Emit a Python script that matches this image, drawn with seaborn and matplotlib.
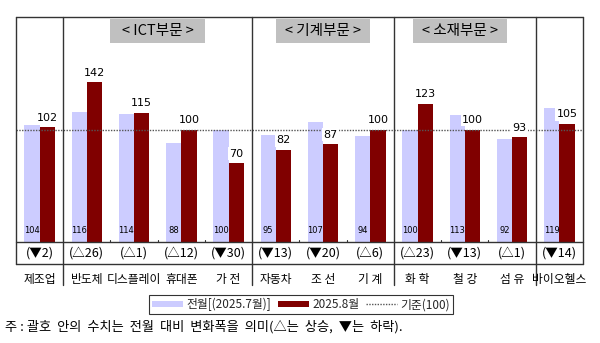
import matplotlib
matplotlib.use("Agg")
import matplotlib.pyplot as plt
import seaborn as sns
import pandas as pd
from matplotlib.patches import Patch, Rectangle
from matplotlib.lines import Line2D

categories = ["제조업", "반도체", "디스플레이", "휴대폰", "가 전", "자동차", "조 선", "기 계", "화 학", "철 강", "섬 유", "바이오헬스"]
prev_vals = [104, 116, 114, 88, 100, 95, 107, 94, 100, 113, 92, 119]
curr_vals = [102, 142, 115, 100, 70, 82, 87, 100, 123, 100, 93, 105]
changes = ["(▼2)", "(△26)", "(△1)", "(△12)", "(▼30)", "(▼13)", "(▼20)", "(△6)", "(△23)", "(▼13)", "(△1)", "(▼14)"]
sections = [("< ICT부문 >", 2.5), ("< 기계부문 >", 6.0), ("< 소재부문 >", 8.9)]
dividers = [0.5, 4.5, 7.5, 10.5]
series_names = ["전월[(2025.7월)]", "2025.8월"]
baseline = 100

sns.set_theme(style="white")
plt.rcParams['font.family'] = ['Noto Sans CJK KR', 'DejaVu Sans']

light = "#CCCCFF"
dark = "#800000"

df = pd.DataFrame({
    "cat": categories * 2,
    "series": [series_names[0]] * len(categories) + [series_names[1]] * len(categories),
    "val": prev_vals + curr_vals,
})

fig = plt.figure(figsize=(6, 3.43), dpi=100)
W, H = 600, 343
ax = fig.add_axes([16 / W, 1 - 242 / H, (583 - 16) / W, (242 - 17) / H])
sns.barplot(data=df, x="cat", y="val", hue="series", order=categories,
            hue_order=series_names, palette=[light, dark], width=0.65,
            saturation=1, ax=ax, legend=False, edgecolor="none")
ax.set_xlim(-0.5, len(categories) - 0.5)
ax.set_ylim(0, 200)
for s in ax.spines.values():
    s.set_visible(False)
ax.set_xticks([])
ax.set_yticks([])
ax.set_xlabel("")
ax.set_ylabel("")

ax.axhline(baseline, color="#555555", lw=1, ls=(0, (1, 1)), zorder=1.5)

off = 0.1625
kw = dict(clip_on=False)
for i, (p, c) in enumerate(zip(prev_vals, curr_vals)):
    ax.text(i - off, 6, str(p), ha="center", va="bottom", fontsize=6, color="black", family="DejaVu Sans", zorder=5)
    ax.text(i + off, c + 4, str(c), ha="center", va="bottom", fontsize=8, color="black",
            family="DejaVu Sans", zorder=5,
            bbox=dict(facecolor="white", edgecolor="none", pad=1))
    ax.text(i, -10, changes[i], ha="center", va="center", fontsize=9, color="black", zorder=5, **kw)
    ax.text(i, -33, categories[i], ha="center", va="center", fontsize=8.5, color="black", zorder=5, **kw)

x0, x1 = -0.5, len(categories) - 0.5
lc = "#333333"
ax.plot([x0, x1], [200, 200], color=lc, lw=1, **kw)
ax.plot([x0, x1], [0, 0], color=lc, lw=1, **kw)
ax.plot([x0, x1], [-19.5, -19.5], color=lc, lw=1, **kw)
ax.plot([x0, x0], [200, -19.5], color=lc, lw=1, **kw)
ax.plot([x1, x1], [200, -19.5], color=lc, lw=1, **kw)
for d in dividers:
    ax.plot([d, d], [200, -38], color=lc, lw=1, **kw)
for b in range(len(categories) - 1):
    xb = b + 0.5
    if xb not in dividers:
        ax.plot([xb, xb], [0, 2], color=lc, lw=0.8, **kw)

for name, xc in sections:
    ax.add_patch(Rectangle((xc - 1.0, 177), 2.0, 21.3, facecolor="#C0C0C0", edgecolor="none", zorder=5))
    ax.text(xc, 188, name, ha="center", va="center", fontsize=10.5, color="black", zorder=6)

handles = [Patch(facecolor=light, edgecolor="none"), Patch(facecolor=dark, edgecolor="none"),
           Line2D([0], [0], color="#555555", lw=1, ls=(0, (1, 1)))]
leg = fig.legend(handles, [series_names[0], series_names[1], "기준(100)"], loc="center",
                 bbox_to_anchor=(301 / W, 1 - 304.5 / H), ncol=3, fontsize=8.5, frameon=True,
                 fancybox=False, edgecolor="black", handlelength=2.6, handleheight=0.5,
                 borderpad=0.25, columnspacing=0.6, handletextpad=0.3)
leg.get_frame().set_linewidth(0.8)

fig.text(5 / W, 1 - 327 / H, "주 : 괄호  안의  수치는  전월  대비  변화폭을  의미(△는  상승,  ▼는  하락).",
         ha="left", va="center", fontsize=9.5, color="black")

fig.savefig("out.png", dpi=100, facecolor="white")
